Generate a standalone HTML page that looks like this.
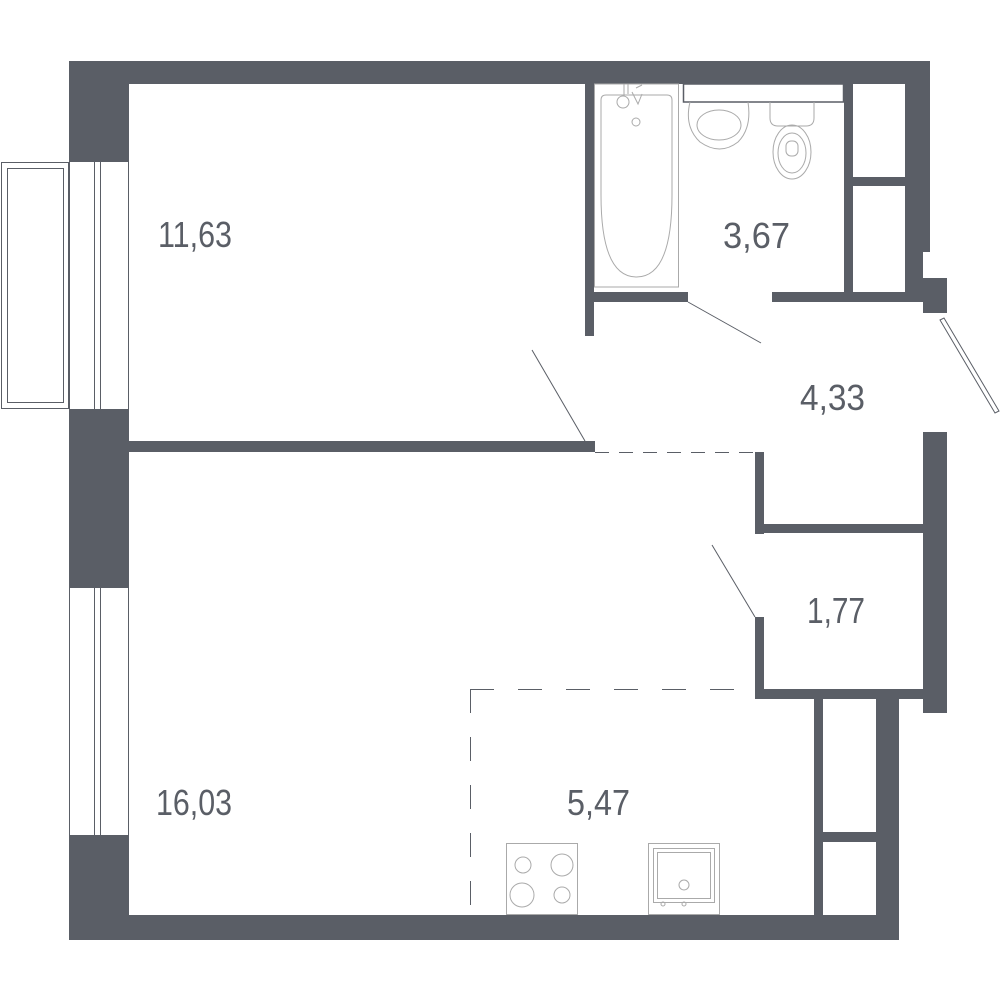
<!DOCTYPE html>
<html><head><meta charset="utf-8"><style>
html,body{margin:0;padding:0;background:#fff;width:1001px;height:1000px;overflow:hidden}
svg{display:block}
text{font-family:"Liberation Sans",sans-serif;fill:#5a5e66;font-size:36px}
</style></head><body>
<svg width="1001" height="1000" viewBox="0 0 1001 1000">
<g fill="#5a5e66">
<!-- top wall -->
<rect x="69" y="61" width="861" height="23"/>
<!-- left wall -->
<rect x="69" y="61" width="60" height="101"/>
<rect x="69" y="409" width="60" height="179"/>
<rect x="69" y="835" width="60" height="105"/>
<!-- bottom wall -->
<rect x="69" y="915" width="829" height="25"/>
<!-- partition -->
<rect x="129" y="441" width="466" height="11"/>
<!-- bathroom walls -->
<rect x="585" y="84" width="9" height="252"/>
<rect x="585" y="292" width="103" height="10"/>
<rect x="772" y="292" width="151" height="10"/>
<rect x="844" y="84" width="9" height="218"/>
<rect x="853" y="177" width="52" height="9"/>
<!-- right wall upper -->
<rect x="905" y="61" width="25" height="191"/>
<rect x="905" y="250" width="18" height="45"/>
<rect x="923" y="278" width="24" height="35"/>
<!-- right wall lower -->
<rect x="923" y="432" width="24" height="281"/>
<!-- closet walls -->
<rect x="755" y="452" width="9" height="82"/>
<rect x="755" y="524" width="168" height="9"/>
<rect x="755" y="617" width="9" height="82"/>
<rect x="755" y="689" width="192" height="10"/>
<!-- lower shaft -->
<rect x="814" y="699" width="9" height="216"/>
<rect x="876" y="699" width="23" height="241"/>
<rect x="823" y="832" width="53" height="10"/>
</g>
<g fill="none" stroke="#5a5e66" stroke-width="1">
<!-- balcony -->
<rect x="1.5" y="162.5" width="67" height="246"/>
<rect x="7.5" y="168.5" width="56" height="234"/>
<!-- window frames -->
<line x1="69.5" y1="162" x2="69.5" y2="409"/>
<line x1="94.5" y1="162" x2="94.5" y2="409"/>
<line x1="100.5" y1="162" x2="100.5" y2="409"/>
<line x1="128.5" y1="162" x2="128.5" y2="409"/>
<line x1="69.5" y1="588" x2="69.5" y2="835"/>
<line x1="94.5" y1="588" x2="94.5" y2="835"/>
<line x1="100.5" y1="588" x2="100.5" y2="835"/>
<line x1="128.5" y1="588" x2="128.5" y2="835"/>
<!-- doors -->
<line x1="532" y1="350" x2="585" y2="441"/>
<line x1="688" y1="302" x2="761" y2="343"/>
<line x1="712" y1="545" x2="755" y2="617"/>
<polygon points="940,320 944,318 999,411 995,413"/>
<!-- dashed -->
<line x1="595" y1="452.5" x2="755" y2="452.5" stroke-dasharray="14,10"/>
<line x1="470" y1="689.5" x2="755" y2="689.5" stroke-dasharray="24,24"/>
<line x1="470.5" y1="689" x2="470.5" y2="915" stroke-dasharray="24,24"/>
<!-- bathroom counter -->
<rect x="683.5" y="84" width="160" height="18" stroke-width="1.5"/>
<!-- bathtub -->
<rect x="594.5" y="84" width="84" height="203" stroke="#aaa"/>
<path d="M601,100 q0,-5 5,-5 h61 q5,0 5,5 v95 q0,82 -35.5,82 q-35.5,0 -35.5,-82 z" stroke="#aaa"/>
<circle cx="623" cy="102" r="6" stroke="#aaa"/>
<circle cx="636" cy="122" r="4" stroke="#aaa"/>
<path d="M624,84 v12 M628,84 v10 M636,88 l6,-3 M632,92 l6,12 l4,-10" stroke="#aaa"/>
<!-- sink -->
<path d="M690,102 q-6,25 10,40 q20,14 38,0 q14,-14 10,-40" stroke="#aaa"/>
<ellipse cx="719" cy="125" rx="22" ry="15" stroke="#aaa"/>
<!-- toilet -->
<path d="M770,102 v16 q0,8 8,8 h28 q8,0 8,-8 v-16" stroke="#aaa"/>
<ellipse cx="792" cy="152" rx="19" ry="27" stroke="#aaa"/>
<ellipse cx="792" cy="153" rx="14" ry="20" stroke="#aaa"/>
<rect x="786" y="141" width="12" height="15" rx="5" stroke="#aaa"/>
<!-- stove -->
<rect x="506.5" y="843.5" width="71" height="71" stroke="#aaa"/>
<circle cx="523" cy="865" r="8" stroke="#aaa"/>
<circle cx="562" cy="865" r="11" stroke="#aaa"/>
<circle cx="522" cy="895" r="12" stroke="#aaa"/>
<circle cx="562" cy="895" r="8" stroke="#aaa"/>
<!-- kitchen sink -->
<rect x="648.5" y="843.5" width="71" height="71" stroke="#aaa"/>
<rect x="653.5" y="848.5" width="61" height="54" stroke="#aaa"/>
<rect x="657.5" y="852.5" width="53" height="46" stroke="#aaa"/>
<circle cx="684" cy="885" r="5" stroke="#aaa"/>
<circle cx="663" cy="904" r="2" stroke="#aaa"/>
<circle cx="684" cy="904" r="2" stroke="#aaa"/>
</g>
<text x="158" y="247" textLength="74" lengthAdjust="spacingAndGlyphs">11,63</text>
<text x="723" y="248" textLength="67" lengthAdjust="spacingAndGlyphs">3,67</text>
<text x="800" y="410" textLength="65" lengthAdjust="spacingAndGlyphs">4,33</text>
<text x="807" y="623" textLength="58" lengthAdjust="spacingAndGlyphs">1,77</text>
<text x="156" y="815" textLength="76" lengthAdjust="spacingAndGlyphs">16,03</text>
<text x="567" y="815" textLength="63" lengthAdjust="spacingAndGlyphs">5,47</text>
</svg>
</body></html>
